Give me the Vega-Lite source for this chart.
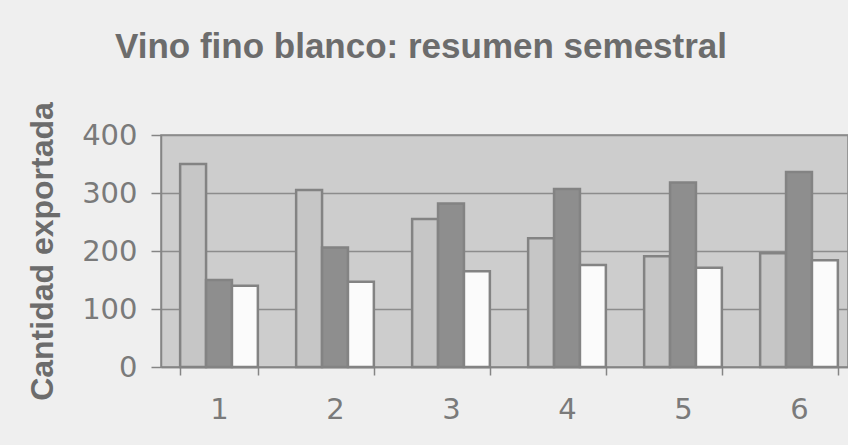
{
  "$schema": "https://vega.github.io/schema/vega-lite/v6.json",
  "width": 687,
  "height": 232,
  "autosize": {"type": "none"},
  "padding": {"left": 161, "top": 135, "right": 0, "bottom": 78},
  "background": "#efefef",
  "title": {
    "text": "Vino fino blanco: resumen semestral",
    "anchor": "start",
    "frame": "group",
    "dx": -46,
    "offset": 37,
    "font": "Liberation Sans",
    "fontSize": 35,
    "fontWeight": "bold",
    "color": "#6c6c6c"
  },
  "data": {
    "values": [
      {"mes": "1", "serie": "a", "cantidad": 350},
      {"mes": "1", "serie": "b", "cantidad": 150},
      {"mes": "1", "serie": "c", "cantidad": 140},
      {"mes": "2", "serie": "a", "cantidad": 305},
      {"mes": "2", "serie": "b", "cantidad": 206},
      {"mes": "2", "serie": "c", "cantidad": 147},
      {"mes": "3", "serie": "a", "cantidad": 255},
      {"mes": "3", "serie": "b", "cantidad": 282},
      {"mes": "3", "serie": "c", "cantidad": 165},
      {"mes": "4", "serie": "a", "cantidad": 222},
      {"mes": "4", "serie": "b", "cantidad": 307},
      {"mes": "4", "serie": "c", "cantidad": 176},
      {"mes": "5", "serie": "a", "cantidad": 191},
      {"mes": "5", "serie": "b", "cantidad": 318},
      {"mes": "5", "serie": "c", "cantidad": 171},
      {"mes": "6", "serie": "a", "cantidad": 196},
      {"mes": "6", "serie": "b", "cantidad": 336},
      {"mes": "6", "serie": "c", "cantidad": 184}
    ]
  },
  "mark": {"type": "bar", "stroke": "#838383", "strokeWidth": 2.5},
  "encoding": {
    "x": {
      "field": "mes",
      "type": "ordinal",
      "scale": {"range": [0, 696], "paddingInner": 0.33, "paddingOuter": 0.165},
      "axis": {
        "title": null,
        "labelAngle": 0,
        "labelFont": "DejaVu Sans",
        "labelFontSize": 29,
        "labelColor": "#7a7a7a",
        "labelPadding": 20,
        "tickBand": "extent",
        "tickSize": 8,
        "tickColor": "#858585",
        "tickWidth": 1.5,
        "domainColor": "#858585",
        "domainWidth": 1.5
      }
    },
    "xOffset": {"field": "serie", "type": "nominal", "scale": {"paddingInner": 0}},
    "y": {
      "field": "cantidad",
      "type": "quantitative",
      "scale": {"domain": [0, 400]},
      "axis": {
        "values": [0, 100, 200, 300, 400],
        "title": "Cantidad exportada",
        "titleFont": "Liberation Sans",
        "titleFontSize": 32,
        "titleFontWeight": "bold",
        "titleColor": "#6c6c6c",
        "titlePadding": 22,
        "labelFont": "DejaVu Sans",
        "labelFontSize": 29,
        "labelColor": "#7a7a7a",
        "labelPadding": 14,
        "tickSize": 10,
        "tickColor": "#858585",
        "tickWidth": 1.5,
        "domainColor": "#858585",
        "domainWidth": 1.5,
        "grid": true,
        "gridColor": "#8c8c8c",
        "gridWidth": 1.5
      }
    },
    "fill": {
      "field": "serie",
      "type": "nominal",
      "scale": {"domain": ["a", "b", "c"], "range": ["#c6c6c6", "#8e8e8e", "#fbfbfb"]},
      "legend": null
    }
  },
  "config": {
    "view": {"fill": "#cdcdcd", "stroke": "#858585", "strokeWidth": 1.5}
  }
}
